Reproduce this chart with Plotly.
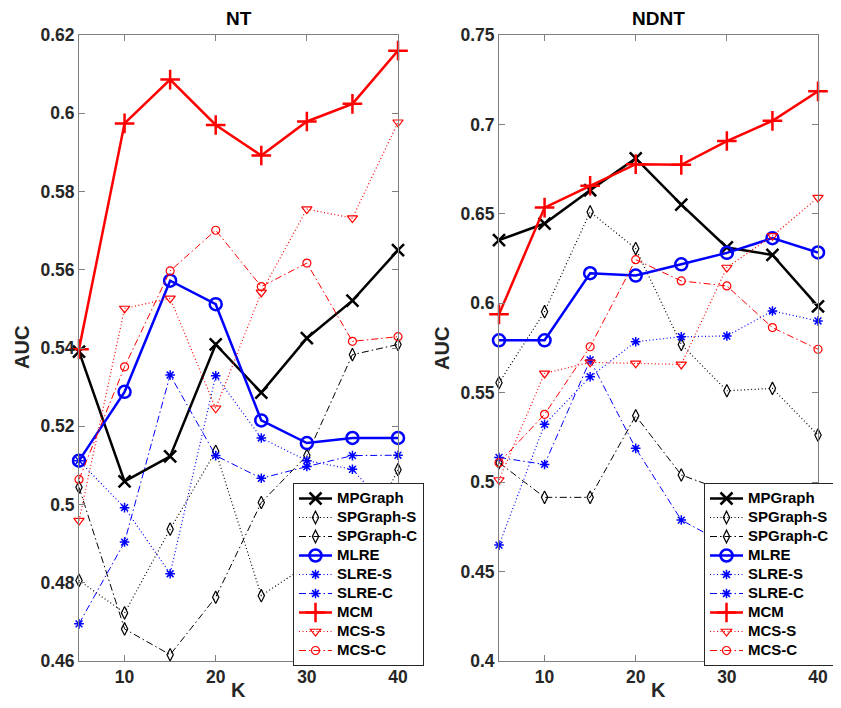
import plotly.graph_objects as go

# ---------------- data ----------------
K = [5, 10, 15, 20, 25, 30, 35, 40]

series_names = ["MPGraph", "SPGraph-S", "SPGraph-C", "MLRE", "SLRE-S", "SLRE-C", "MCM", "MCS-S", "MCS-C"]

# NT panel
nt_mpgraph = [0.5391, 0.5059, 0.5123, 0.5409, 0.5286, 0.5425, 0.5521, 0.5650]
nt_spgraph_s = [0.4806, 0.4723, 0.4937, 0.5136, 0.4767, 0.4845, 0.4853, 0.5089]
nt_spgraph_c = [0.5044, 0.4682, 0.4616, 0.4763, 0.5005, 0.5125, 0.5383, 0.5409]
nt_mlre = [0.5112, 0.5288, 0.5572, 0.5512, 0.5215, 0.5157, 0.5170, 0.5170]
nt_slre_s = [0.5112, 0.4992, 0.4823, 0.5329, 0.5170, 0.5112, 0.5090, 0.4960]
nt_slre_c = [0.4695, 0.4904, 0.5331, 0.5125, 0.5067, 0.5097, 0.5125, 0.5126]
nt_mcm = [0.5397, 0.5974, 0.6086, 0.5970, 0.5892, 0.5979, 0.6024, 0.6160]
nt_mcs_s = [0.4959, 0.5501, 0.5527, 0.5246, 0.5542, 0.5755, 0.5732, 0.5977]
nt_mcs_c = [0.5064, 0.5352, 0.5597, 0.5701, 0.5557, 0.5617, 0.5417, 0.5429]

# NDNT panel
ndnt_mpgraph = [0.6353, 0.6446, 0.6632, 0.6810, 0.6552, 0.6312, 0.6270, 0.5983]
ndnt_spgraph_s = [0.5556, 0.5953, 0.6511, 0.6306, 0.5770, 0.5511, 0.5524, 0.5263]
ndnt_spgraph_c = [0.5109, 0.4915, 0.4915, 0.5371, 0.5040, 0.4947, 0.4840, 0.4760]
ndnt_mlre = [0.5793, 0.5793, 0.6168, 0.6155, 0.6218, 0.6282, 0.6364, 0.6284]
ndnt_slre_s = [0.4648, 0.5323, 0.5589, 0.5785, 0.5813, 0.5817, 0.5957, 0.5901]
ndnt_slre_c = [0.5138, 0.5099, 0.5683, 0.5189, 0.4788, 0.4650, 0.4560, 0.4500]
ndnt_mcm = [0.5938, 0.6535, 0.6657, 0.6778, 0.6774, 0.6907, 0.7020, 0.7185]
ndnt_mcs_s = [0.5012, 0.5608, 0.5670, 0.5664, 0.5658, 0.6200, 0.6377, 0.6591]
ndnt_mcs_c = [0.5109, 0.5379, 0.5757, 0.6244, 0.6125, 0.6097, 0.5864, 0.5743]

x_tickvals = [10, 20, 30, 40]
x_ticktext = ["10", "20", "30", "40"]
nt_yticks = [0.46, 0.48, 0.50, 0.52, 0.54, 0.56, 0.58, 0.60, 0.62]
nt_yticktext = ["0.46", "0.48", "0.5", "0.52", "0.54", "0.56", "0.58", "0.6", "0.62"]
ndnt_yticks = [0.40, 0.45, 0.50, 0.55, 0.60, 0.65, 0.70, 0.75]
ndnt_yticktext = ["0.4", "0.45", "0.5", "0.55", "0.6", "0.65", "0.7", "0.75"]

# ---------------- styles ----------------
BLACK, BLUE, RED = "#000000", "#0000FF", "#FF0000"
DOT = "1px,2.5px"
DASHDOT = "7px,3px,1.5px,3px"
styles = {
    "MPGraph":   dict(color=BLACK, dash="solid", width=2.5, symbol="x-thin-open", msize=12, mlw=2.5),
    "SPGraph-S": dict(color=BLACK, dash=DOT, width=1.2, symbol="diamond-tall-open", msize=9, mlw=1.2),
    "SPGraph-C": dict(color=BLACK, dash=DASHDOT, width=1, symbol="diamond-tall-open", msize=9, mlw=1.2),
    "MLRE":      dict(color=BLUE, dash="solid", width=2.5, symbol="circle-open", msize=12, mlw=2.5),
    "SLRE-S":    dict(color=BLUE, dash=DOT, width=1.2, symbol="asterisk-open", msize=8, mlw=1.5),
    "SLRE-C":    dict(color=BLUE, dash=DASHDOT, width=1, symbol="asterisk-open", msize=8, mlw=1.5),
    "MCM":       dict(color=RED, dash="solid", width=2.5, symbol="cross-thin-open", msize=14, mlw=2.5),
    "MCS-S":     dict(color=RED, dash=DOT, width=1.2, symbol="triangle-down-open", msize=9, mlw=1.2),
    "MCS-C":     dict(color=RED, dash=DASHDOT, width=1, symbol="circle-open", msize=8, mlw=1.2),
}

nt_data = [nt_mpgraph, nt_spgraph_s, nt_spgraph_c, nt_mlre, nt_slre_s, nt_slre_c, nt_mcm, nt_mcs_s, nt_mcs_c]
ndnt_data = [ndnt_mpgraph, ndnt_spgraph_s, ndnt_spgraph_c, ndnt_mlre, ndnt_slre_s, ndnt_slre_c,
             ndnt_mcm, ndnt_mcs_s, ndnt_mcs_c]

LEGEND_TEXT_PX = 15

fig = go.Figure()

for data, xa, ya, lg in [(nt_data, "x", "y", "legend"), (ndnt_data, "x2", "y2", "legend2")]:
    for name, vals in zip(series_names, data):
        s = styles[name]
        fig.add_trace(go.Scatter(
            x=K, y=vals, mode="lines+markers",
            name='<span style="font-size:%dpx;font-weight:bold">%s</span>' % (LEGEND_TEXT_PX, name),
            xaxis=xa, yaxis=ya, legend=lg, cliponaxis=False,
            line=dict(color=s["color"], dash=s["dash"], width=s["width"]),
            marker=dict(symbol=s["symbol"], size=s["msize"], color=s["color"],
                        line=dict(color=s["color"], width=s["mlw"])),
        ))

# page has an 8px body margin: figure is shifted by 8px, so size it to fit the window
OFF = 8
W, H = 841 - 2 * OFF, 708 - 2 * OFF


def px_x(p):
    return (p - OFF) / W


def px_y(p):
    return 1 - (p - OFF) / H


FONT = "Liberation Sans, Arial, Helvetica, sans-serif"
tickfont = dict(family=FONT, size=17.5, color="#262626", weight="bold")

common_x = dict(range=[5, 40], tickvals=x_tickvals, ticktext=x_ticktext, ticks="inside", ticklen=6,
                tickcolor="#7f7f7f", showline=True, linecolor="#7f7f7f", linewidth=1, mirror="ticks",
                showgrid=False, zeroline=False, tickfont=tickfont, fixedrange=True)
common_y = dict(ticks="inside", ticklen=6, tickcolor="#7f7f7f", showline=True, linecolor="#7f7f7f",
                linewidth=1, mirror="ticks", showgrid=False, zeroline=False, tickfont=tickfont)

legend_common = dict(xanchor="left", yanchor="bottom", bgcolor="white", bordercolor="#262626",
                     borderwidth=1, font=dict(family=FONT, size=12, color="#000000", weight="bold"),
                     itemwidth=33, tracegroupgap=0)

ydom = [px_y(661), px_y(35)]
fig.update_layout(
    width=W, height=H,
    margin=dict(l=0, r=0, t=0, b=0, autoexpand=False),
    paper_bgcolor="white", plot_bgcolor="white",
    xaxis=dict(domain=[px_x(79), px_x(398)], anchor="y", **common_x),
    yaxis=dict(domain=ydom, anchor="x", range=[0.46, 0.62], tickvals=nt_yticks, ticktext=nt_yticktext, **common_y),
    xaxis2=dict(domain=[px_x(499), px_x(818)], anchor="y2", **common_x),
    yaxis2=dict(domain=ydom, anchor="x2", range=[0.40, 0.75], tickvals=ndnt_yticks, ticktext=ndnt_yticktext, **common_y),
    legend=dict(x=px_x(293), y=px_y(666), **legend_common),
    legend2=dict(x=px_x(704), y=px_y(666), **legend_common),
    showlegend=True,
)

ann_font_title = dict(family=FONT, size=19, color="#000000", weight="bold")
ann_font_label = dict(family=FONT, size=20, color="#262626", weight="bold")
annotations = [
    dict(text="NT", x=px_x(238.5), y=px_y(18.5), font=ann_font_title, yanchor="middle"),
    dict(text="NDNT", x=px_x(658.5), y=px_y(18.5), font=ann_font_title, yanchor="middle"),
    dict(text="K", x=px_x(238.5), y=px_y(700), font=ann_font_label, yanchor="bottom", yshift=-3),
    dict(text="K", x=px_x(658.5), y=px_y(700), font=ann_font_label, yanchor="bottom", yshift=-3),
    dict(text="AUC", x=px_x(22), y=px_y(348), font=ann_font_label, textangle=-90, yanchor="middle"),
    dict(text="AUC", x=px_x(442), y=px_y(348), font=ann_font_label, textangle=-90, yanchor="middle"),
]
for a in annotations:
    a.update(xref="paper", yref="paper", showarrow=False, xanchor="center")
fig.update_layout(annotations=annotations)

fig.write_html("out.html")
